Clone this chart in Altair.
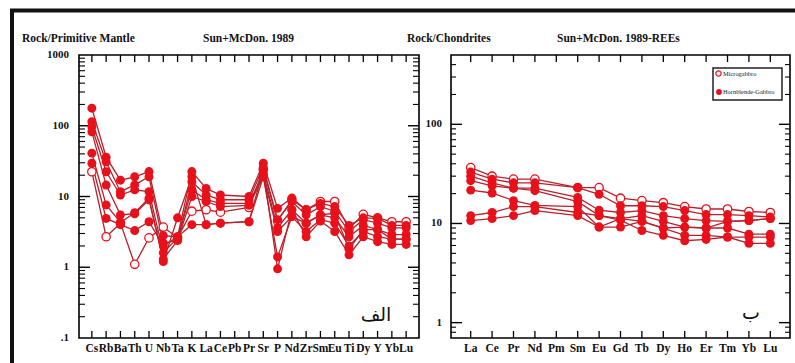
import altair as alt
import pandas as pd

# ---------------- data ----------------
spider_elements = ["Cs", "Rb", "Ba", "Th", "U", "Nb", "Ta", "K", "La", "Ce", "Pb", "Pr",
                   "Sr", "P", "Nd", "Zr", "Sm", "Eu", "Ti", "Dy", "Y", "Yb", "Lu"]
ree_elements = ["La", "Ce", "Pr", "Nd", "Pm", "Sm", "Eu", "Gd", "Tb", "Dy", "Ho", "Er",
                "Tm", "Yb", "Lu"]

sample_names = ["MG-1", "HG-1", "HG-2", "HG-3", "HG-4", "HG-5", "HG-6"]
sample_groups = ["Microgabbro", "Hornblende-Gabbro", "Hornblende-Gabbro", "Hornblende-Gabbro",
                 "Hornblende-Gabbro", "Hornblende-Gabbro", "Hornblende-Gabbro"]

# Rock / Primitive Mantle (Pb not analysed)
spider_mg1 = [22.4, 2.7, 4.2, 1.1, 2.6, 3.7, 2.6, 6.2, 6.5, 6.0, None, 7.0, 24, 4.5, 9.0, 6.5, 8.5, 8.5, 3.5, 5.6, 5.0, 4.4, 4.4]
spider_hg1 = [177, 36, 17, 19, 22.5, 2.8, 2.7, 22.5, 13, 10.5, None, 10, 29.5, 6.8, 9.5, 6.5, 8.0, 7.2, 3.9, 5.0, 4.9, 3.9, 3.9]
spider_hg2 = [114, 31, 11.7, 14.6, 19, 2.2, 2.4, 16.2, 10.5, 9.0, None, 9.0, 26, 4.7, 8.5, 5.5, 7.2, 6.2, 3.2, 4.7, 4.2, 3.6, 3.6]
spider_hg3 = [97, 22.4, 10.5, 12.4, 11.7, 1.6, 2.6, 12.4, 9.0, 8.0, None, 8.0, 21, 3.6, 6.5, 4.2, 5.5, 5.0, 2.7, 3.9, 3.4, 2.9, 2.9]
spider_hg4 = [82, 14.5, 5.5, 5.7, 9.0, 1.3, 2.4, 10.0, 8.5, 7.2, None, 7.5, 19, 1.4, 5.2, 3.2, 4.7, 4.2, 2.0, 3.2, 2.7, 2.5, 2.5]
spider_hg5 = [41, 7.6, 4.3, 5.9, 9.5, 1.2, 5.0, 19, 4.0, 4.2, None, 4.4, 24, 0.95, 6.5, 2.7, 4.5, 3.2, 1.5, 2.7, 2.3, 2.1, 2.1]
spider_hg6 = [29.5, 4.9, 4.0, 3.3, 4.4, 2.0, 2.7, 4.0, 4.0, 4.2, None, 4.4, 19, 3.2, 5.2, 4.2, 5.5, 5.8, 1.8, 3.4, 3.4, 2.5, 2.5]

# Rock / Chondrites (Pm not analysed)
ree_mg1 = [36.6, 30, 28, 28, None, 23, 23, 18, 17, 16.2, 14.8, 14, 14, 13.2, 12.9]
ree_hg1 = [33, 28, 25.7, 25.7, None, 23, 19.7, 15.1, 15.1, 14.8, 13.5, 12.3, 12.3, 12, 11.6]
ree_hg2 = [30, 25.7, 22.7, 22.7, None, 18.3, 13.6, 12.9, 13.5, 12, 11.2, 10.7, 10.5, 10.7, 11.2]
ree_hg3 = [27, 24, 22.7, 21.4, None, 16.6, 12, 11.2, 12, 10.5, 9.2, 9, 9, 7.8, 7.8]
ree_hg4 = [21.7, 20.3, 17, 15.2, None, 14.8, 9.2, 9.2, 10.5, 9, 7.6, 7.6, 7.3, 7.3, 7.3]
ree_hg5 = [12, 12.9, 14.8, 14.8, None, 12.9, 12, 10.8, 8.5, 7.6, 6.7, 6.9, 7.3, 6.3, 6.3]
ree_hg6 = [10.7, 11.2, 12, 13.5, None, 12, 9.2, 11.2, 10.5, 9, 9.2, 9, 10.5, 10.7, 11.2]

spider_values = [spider_mg1, spider_hg1, spider_hg2, spider_hg3, spider_hg4, spider_hg5, spider_hg6]
ree_values = [ree_mg1, ree_hg1, ree_hg2, ree_hg3, ree_hg4, ree_hg5, ree_hg6]

left_axis_values = [1000, 100, 10, 1, 0.1]
left_axis_texts = ["1000", "100", "10", "1", ".1"]
right_axis_values = [100, 10, 1]
right_axis_texts = ["100", "10", "1"]

legend_labels = ["Microgabbro", "Hornblende-Gabbro"]

titles = ["Rock/Primitive Mantle", "Sun+McDon. 1989", "Rock/Chondrites", "Sun+McDon. 1989-REEs"]
panel_marks = ["الف", "ب"]

# ---------------- helpers ----------------
LINE = "#b8202a"
PT = "#e8101a"
SERIF = "Liberation Serif"


def long_table(elements, values):
    rows = []
    for name, grp, vals in zip(sample_names, sample_groups, values):
        for i, (el, v) in enumerate(zip(elements, vals)):
            if v is not None:
                rows.append({"sample": name, "group": grp, "el": el, "i": i, "v": v})
    return pd.DataFrame(rows)


spider_df = long_table(spider_elements, spider_values)
ree_df = long_table(ree_elements, ree_values)

xL = alt.Scale(domain=[-0.9, 22.9], range=[79, 419], nice=False, zero=False)
yL = alt.Scale(type="log", domain=[0.1, 1000], range=[338, 55], nice=False)
xR = alt.Scale(domain=[-0.92, 14.92], range=[451, 790], nice=False, zero=False)
yR = alt.Scale(type="log", domain=[0.7, 500], range=[338, 55], nice=False)

dummy = pd.DataFrame({"a": [0]})


def data_layers(df, xs, ys):
    enc = dict(x=alt.X("i:Q", scale=xs, axis=None), y=alt.Y("v:Q", scale=ys, axis=None))
    lines = alt.Chart(df).mark_line(color=LINE, strokeWidth=1.3).encode(
        detail="sample:N", order="i:Q", **enc)
    open_pts = alt.Chart(df[df["group"] == "Microgabbro"]).mark_point(
        shape="circle", size=70, fill="white", fillOpacity=1, stroke=PT, strokeWidth=1.3,
        opacity=1).encode(**enc)
    filled_pts = alt.Chart(df[df["group"] == "Hornblende-Gabbro"]).mark_point(
        shape="circle", size=80, filled=True, color=PT, opacity=1).encode(**enc)
    return [lines, open_pts, filled_pts]


def frame_layers(elements, xs, ys, x0, x1, minor, major, ylab_vals, ylab_txt, ylab_x, mlen):
    out = []
    out.append(alt.Chart(dummy).mark_rect(fillOpacity=0, stroke="black", strokeWidth=1.6).encode(
        x=alt.value(x0), x2=alt.value(x1), y=alt.value(55), y2=alt.value(338)))
    mdf = pd.DataFrame({"v": minor})
    Mdf = pd.DataFrame({"v": major})
    for xa, xb in [(x0, x0 + mlen), (x1 - mlen, x1)]:
        out.append(alt.Chart(mdf).mark_rule(color="black", strokeWidth=1.1).encode(
            y=alt.Y("v:Q", scale=ys, axis=None), x=alt.value(xa), x2=alt.value(xb)))
    for xa, xb in [(x0, x0 + 11), (x1 - 11, x1)]:
        out.append(alt.Chart(Mdf).mark_rule(color="black", strokeWidth=1.4).encode(
            y=alt.Y("v:Q", scale=ys, axis=None), x=alt.value(xa), x2=alt.value(xb)))
    edf = pd.DataFrame({"i": list(range(len(elements))), "el": elements})
    for ya, yb in [(331, 338), (55, 62)]:
        out.append(alt.Chart(edf).mark_rule(color="black", strokeWidth=1.3).encode(
            x=alt.X("i:Q", scale=xs, axis=None), y=alt.value(ya), y2=alt.value(yb)))
    out.append(alt.Chart(edf).mark_text(font=SERIF, fontWeight="bold", fontSize=11.5,
                                        color="#111", baseline="middle").encode(
        x=alt.X("i:Q", scale=xs, axis=None), y=alt.value(349), text="el:N"))
    ldf = pd.DataFrame({"v": ylab_vals, "t": ylab_txt})
    out.append(alt.Chart(ldf).mark_text(font=SERIF, fontWeight="bold", fontSize=11,
                                        color="#111", align="right", baseline="middle").encode(
        y=alt.Y("v:Q", scale=ys, axis=None), x=alt.value(ylab_x), text="t:N"))
    return out


left_minor = [d * k for d in [0.1, 1, 10, 100] for k in range(2, 10)]
left_major = [1, 10, 100]
right_minor = [0.8, 0.9] + [d * k for d in [1, 10] for k in range(2, 10)] + [200, 300, 400]
right_major = [1, 10, 100]

layers = []
# outer black frame
layers.append(alt.Chart(dummy).mark_rect(fillOpacity=0, stroke="#111", strokeWidth=4).encode(
    x=alt.value(12), x2=alt.value(820), y=alt.value(10.5), y2=alt.value(390)))

layers += frame_layers(spider_elements, xL, yL, 79, 419, left_minor, left_major,
                       left_axis_values, left_axis_texts, 69, 6)
layers += frame_layers(ree_elements, xR, yR, 451, 790, right_minor, right_major,
                       right_axis_values, right_axis_texts, 442, 5)

layers += data_layers(spider_df, xL, yL)
layers += data_layers(ree_df, xR, yR)

# titles
for t, px in zip(titles, [22, 203, 407, 557]):
    layers.append(alt.Chart(pd.DataFrame({"t": [t]})).mark_text(
        font=SERIF, fontWeight="bold", fontSize=11.5, color="#111", align="left",
        baseline="alphabetic").encode(x=alt.value(px), y=alt.value(42), text="t:N"))

# panel letters (Arabic)
for t, px, py in zip(panel_marks, [376, 751], [321, 319]):
    layers.append(alt.Chart(pd.DataFrame({"t": [t]})).mark_text(
        font="DejaVu Sans", fontSize=19, color="#111", align="center",
        baseline="alphabetic").encode(x=alt.value(px), y=alt.value(py), text="t:N"))

# legend
layers.append(alt.Chart(dummy).mark_rect(fill="white", stroke="#222", strokeWidth=1.5).encode(
    x=alt.value(713), x2=alt.value(782), y=alt.value(68), y2=alt.value(100)))
layers.append(alt.Chart(dummy).mark_point(shape="circle", size=28, fill="white", fillOpacity=1,
                                          stroke=PT, strokeWidth=1.2, opacity=1).encode(
    x=alt.value(718.5), y=alt.value(73.5)))
layers.append(alt.Chart(dummy).mark_point(shape="circle", size=34, filled=True, color=PT,
                                          opacity=1).encode(
    x=alt.value(719), y=alt.value(92)))
for t, py in zip(legend_labels, [73.5, 92]):
    layers.append(alt.Chart(pd.DataFrame({"t": [t]})).mark_text(
        font=SERIF, fontSize=6.4, color="#222", align="left", baseline="middle").encode(
        x=alt.value(723), y=alt.value(py), text="t:N"))

chart = alt.layer(*layers).resolve_scale(x="independent", y="independent").properties(
    width=795, height=363, padding=0, autosize=alt.AutoSizeParams(type="none"),
    background="white").configure_view(stroke=None)

chart.save("out.html", embed_options={"renderer": "svg", "actions": False})
